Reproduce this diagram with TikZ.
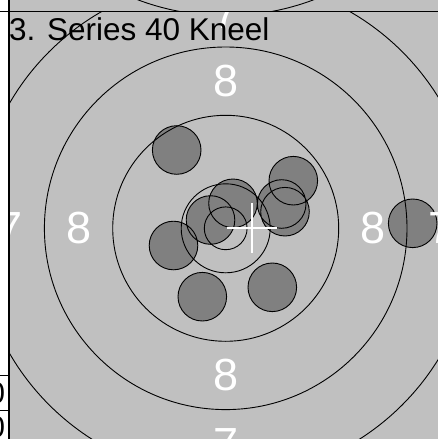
\documentclass[tikz,border=0pt]{standalone}
\usepackage{fontspec}
\setmainfont{Liberation Sans}
\definecolor{tgtgray}{RGB}{192,192,192}
\definecolor{shotgray}{RGB}{128,128,128}

\begin{document}
\begin{tikzpicture}[x=1pt,y=-1pt,
    ring/.style={draw=black,line width=0.9},
    shot/.style={fill=shotgray},
    score/.style={text=white,inner sep=0,font=\fontsize{45}{50}\selectfont},
    cell/.style={anchor=base east,inner sep=0,font=\fontsize{30}{34}\selectfont},
    border/.style={draw=black,line width=1}]
  \useasboundingbox (0,0) rectangle (438,439);

  %% Panel backgrounds
  \fill[white] (0,0) rectangle (9,439);
  \fill[tgtgray] (9,0) rectangle (438,439);

  %% Upper target (cut off)
  \begin{scope}
    \clip (9,0) rectangle (438,11.7);
    \draw[ring] (225.7,-234) circle[radius=249.7];
  \end{scope}

  %% Target centre and shot positions
  \coordinate (c)   at (225.7,228.3);
  \coordinate (mpi) at (251.7,228.3);
  \coordinate (h1)  at (176.7,150);
  \coordinate (h2)  at (293.3,180.7);
  \coordinate (h3)  at (281.7,204);
  \coordinate (h4)  at (285,211.7);
  \coordinate (h5)  at (233,203.3);
  \coordinate (h6)  at (210.5,220);
  \coordinate (h7)  at (173.5,245.5);
  \coordinate (h8)  at (202.3,296.7);
  \coordinate (h9)  at (272.3,287.3);
  \coordinate (h10) at (412.7,223.3);

  \begin{scope}
    \clip (9,11.7) rectangle (438,439);
    %% Shots
    \fill[shot] (h1) circle[radius=24.3] (h2) circle[radius=24.3]
      (h3) circle[radius=24.3] (h4) circle[radius=24.3]
      (h5) circle[radius=24.3] (h6) circle[radius=24.3]
      (h7) circle[radius=24.3] (h8) circle[radius=24.3]
      (h9) circle[radius=24.3] (h10) circle[radius=24.3];
    \draw[ring] (h1) circle[radius=24.3] (h2) circle[radius=24.3]
      (h3) circle[radius=24.3] (h4) circle[radius=24.3]
      (h5) circle[radius=24.3] (h6) circle[radius=24.3]
      (h7) circle[radius=24.3] (h8) circle[radius=24.3]
      (h9) circle[radius=24.3] (h10) circle[radius=24.3];

    %% Rings
    \draw[ring] (c) circle[radius=21.4];
    \draw[ring] (c) circle[radius=44.5];
    \draw[ring] (c) circle[radius=113];
    \draw[ring] (c) circle[radius=181.3];
    \draw[ring] (c) circle[radius=249.7];

    %% Ring numbers
    \node[score] (n8t) at (225.7,81.3)  {8};
    \node[score] (n8b) at (225.7,375.3) {8};
    \node[score] (n8l) at (78.7,228.3)  {8};
    \node[score] (n8r) at (372.7,228.3) {8};
    \node[score] (n7t) at (225.7,12.8)  {7};
    \node[score] (n7b) at (225.7,443.8) {7};
    \node[score] (n7l) at (10.2,228.3)  {7};
    \node[score] (n7r) at (441.2,228.3) {7};

    %% Group centre
    \draw[white,line width=2] (mpi) ++(-25,0) -- ++(50,0);
    \draw[white,line width=2] (mpi) ++(0,-25) -- ++(0,50);
  \end{scope}

  %% Title
  \node[anchor=base west,inner sep=0,font=\fontsize{31.5}{36}\selectfont]
        (title) at (9,40) {3. Series 40 Kneel};

  %% Borders and side table
  \draw[border] (0,11.7) -- (438,11.7);
  \draw[border,line width=1.6] (9,0) -- (9,439);
  \draw[border] (0,375) -- (9,375);
  \draw[border] (0,410.7) -- (9,410.7);
  \node[cell] (row1) at (5.3,403.3) {0};
  \node[cell] (row2) at (5.3,437.3) {0};
\end{tikzpicture}
\end{document}
